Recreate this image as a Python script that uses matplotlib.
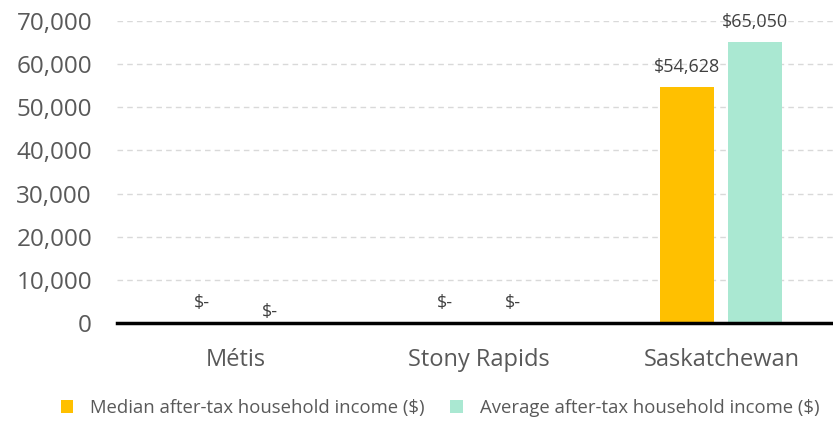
import numpy as np
import matplotlib
matplotlib.use("Agg")
import matplotlib.pyplot as plt
from matplotlib.ticker import FuncFormatter

plt.rcParams['font.family'] = ['Open Sans', 'DejaVu Sans']

categories = ["Métis", "Stony Rapids", "Saskatchewan"]
median_income = [0, 0, 54628]
average_income = [0, 0, 65050]
series_names = ["Median after-tax household income ($)",
                "Average after-tax household income ($)"]
y_ticks = [0, 10000, 20000, 30000, 40000, 50000, 60000, 70000]

gold = "#FFC000"
mint = "#AAE8D2"


def money(v):
    return "$-" if v == 0 else "${:,.0f}".format(v)


fig = plt.figure(figsize=(8.33, 4.21), dpi=100)
ax = fig.add_axes([117 / 833, (421 - 323) / 421, 1 - 117 / 833, 302 / 421])

x = np.arange(len(categories))
w = 0.223
off = 0.14
b1 = ax.bar(x - off, median_income, w, color=gold, label=series_names[0], zorder=3)
b2 = ax.bar(x + off, average_income, w, color=mint, label=series_names[1], zorder=3)

# labels above bars; the first zero average label sits lower in the original
for i, r in enumerate(b1):
    ax.annotate(money(median_income[i]), (r.get_x() + r.get_width() / 2, r.get_height()),
                xytext=(0, 14.5), textcoords="offset points", ha="center", va="center",
                fontsize=13, color="#404040")
for i, r in enumerate(b2):
    dy = 8 if i == 0 else 14.5
    ax.annotate(money(average_income[i]), (r.get_x() + r.get_width() / 2, r.get_height()),
                xytext=(0, dy), textcoords="offset points", ha="center", va="center",
                fontsize=13, color="#404040")

ax.set_xlim(-0.49, 2.46)
ax.set_ylim(0, 70000)
ax.set_yticks(y_ticks)
ax.yaxis.set_major_formatter(FuncFormatter(lambda v, p: "{:,.0f}".format(v)))
ax.set_xticks(x)
ax.set_xticklabels(categories)
ax.tick_params(axis="y", length=0, pad=18, labelsize=17.5, labelcolor="#595959")
ax.tick_params(axis="x", length=0, pad=18, labelsize=17, labelcolor="#595959")

ax.grid(axis="y", color="#D9D9D9", linestyle=(0, (4, 3)), linewidth=1, zorder=0)
for s in ["top", "right", "left"]:
    ax.spines[s].set_visible(False)
ax.spines["bottom"].set_linewidth(2.5)
ax.spines["bottom"].set_color("black")
ax.spines["bottom"].set_zorder(4)

leg = fig.legend(loc="center", bbox_to_anchor=(440 / 833, 1 - 408 / 421), ncol=2,
                 frameon=False, fontsize=13.3, handlelength=0.7, handleheight=0.7,
                 handletextpad=0.9, columnspacing=1.4)
for t in leg.get_texts():
    t.set_color("#595959")

fig.savefig("out.png", dpi=100)
